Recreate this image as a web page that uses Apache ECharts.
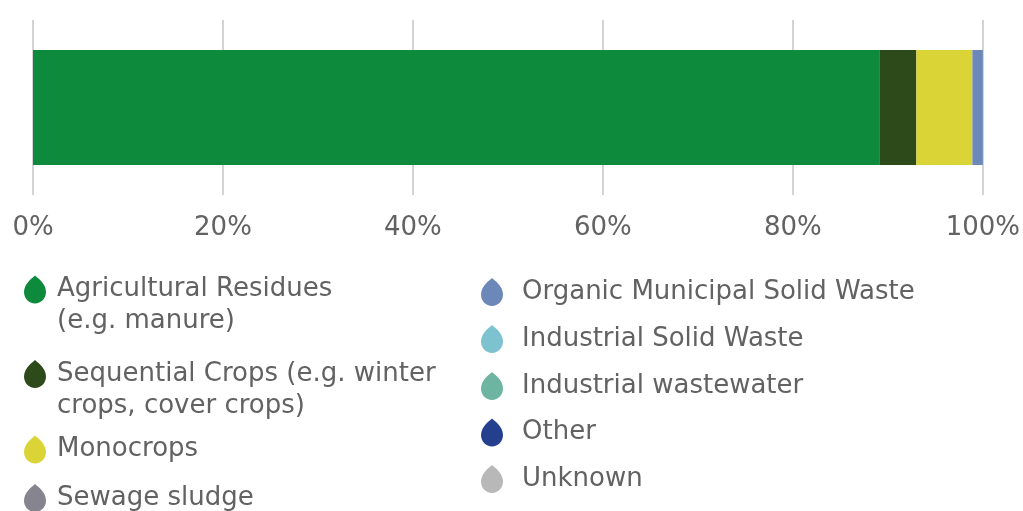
<!DOCTYPE html>
<html>
<head>
<meta charset="utf-8">
<title>Feedstock shares</title>
<script src="https://cdn.jsdelivr.net/npm/echarts@6/dist/echarts.min.js"></script>
<style>
  html, body { margin: 0; padding: 0; background: #ffffff; }
  #chart { width: 1023px; height: 511px; }
</style>
</head>
<body>
<div id="chart"></div>
<script>
// Feedstock categories (legend labels) and their share of the total, in percent
const feedstocks = [
  'Agricultural Residues\n(e.g. manure)',
  'Sequential Crops (e.g. winter\ncrops, cover crops)',
  'Monocrops',
  'Sewage sludge',
  'Organic Municipal Solid Waste',
  'Industrial Solid Waste',
  'Industrial wastewater',
  'Other',
  'Unknown'
];
const shares = [89.1, 3.9, 5.9, 0, 1.1, 0, 0, 0, 0];
const colors = ['#0e8a3c', '#2d4a1b', '#dbd436', '#86858f', '#6b88b8', '#7dc3cf', '#6db5a0', '#243f8e', '#b8b8b8'];
const categories = ['Feedstock'];
const tickValues = [0, 20, 40, 60, 80, 100];

// Legend layout: column of each entry and vertical centre of its first text line
const legendColumn = [0, 0, 0, 0, 1, 1, 1, 1, 1];
const legendRowCenter = [289.5, 374, 449.5, 498, 292, 339, 386, 432.5, 479];
const columnLayout = [
  { left: 24, textGap: 6 },
  { left: 481, textGap: 14 }
];

const FONT = 'DejaVu Sans';
const TEXT_COLOR = '#626262';
const LINE_H = 32;
const ICON_W = 22;
const ICON_H = 28;
// drop-shaped legend marker
const DROP = 'path://M11 0 C13 2 22 8 22 16.5 C22 23 17 28 11 28 C5 28 0 23 0 16.5 C0 8 9 2 11 0 Z';

const series = feedstocks.map((name, i) => ({
  name: name,
  type: 'bar',
  stack: 'total',
  barWidth: 115,
  itemStyle: { color: colors[i] },
  emphasis: { disabled: true },
  data: [shares[i]]
}));

// One legend block per entry. Multi-line labels get blank leading lines so that,
// with the label centred on the marker, the marker sits beside the first line.
const legends = feedstocks.map((name, i) => {
  const lines = name.split('\n').length;
  const col = columnLayout[legendColumn[i]];
  const lead = '\n'.repeat(lines - 1);
  const totalLines = lines * 2 - 1;
  return {
    data: [name],
    orient: 'vertical',
    left: col.left,
    top: legendRowCenter[i] - (totalLines * LINE_H) / 2,
    padding: 0,
    itemWidth: ICON_W,
    itemHeight: ICON_H,
    icon: DROP,
    selectedMode: false,
    formatter: n => lead + n,
    textStyle: {
      fontFamily: FONT,
      fontSize: 26,
      color: TEXT_COLOR,
      lineHeight: LINE_H,
      padding: [0, 0, 0, col.textGap]
    }
  };
});

const chart = echarts.init(document.getElementById('chart'), null, { renderer: 'canvas' });
chart.setOption({
  animation: false,
  backgroundColor: '#ffffff',
  grid: { left: 33, right: 38, top: 20, bottom: 316, containLabel: false },
  xAxis: {
    type: 'value',
    min: tickValues[0],
    max: tickValues[tickValues.length - 1],
    interval: tickValues[1] - tickValues[0],
    axisLine: { show: false },
    axisTick: { show: false },
    splitLine: { show: true, lineStyle: { color: '#c6c6c6', width: 1.5 } },
    axisLabel: {
      margin: 20,
      fontFamily: FONT,
      fontSize: 26,
      color: TEXT_COLOR,
      formatter: v => v + '%'
    }
  },
  yAxis: {
    type: 'category',
    data: categories,
    axisLine: { show: false },
    axisTick: { show: false },
    axisLabel: { show: false }
  },
  legend: legends,
  series: series
});
</script>
</body>
</html>
